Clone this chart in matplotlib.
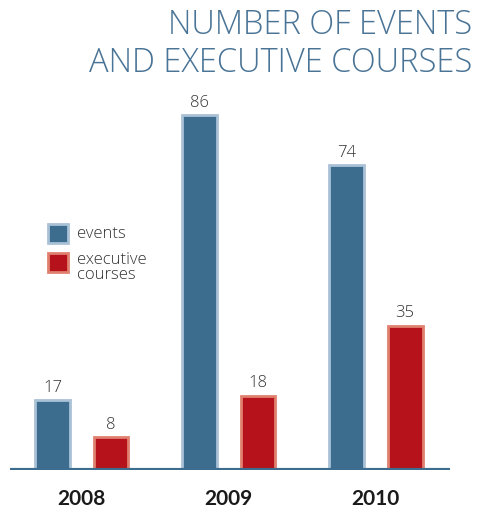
import matplotlib.pyplot as plt
import numpy as np

years = ["2008", "2009", "2010"]
events = [17, 86, 74]
courses = [8, 18, 35]

title_color = "#4a7496"
events_color = "#3d6d8e"
events_edge = "#a9c2d6"
courses_color = "#b5121b"
courses_edge = "#e0806f"
label_color = "#333333"

plt.rcParams["font.family"] = ["Lato", "DejaVu Sans"]
light_font = ["Open Sans", "DejaVu Sans"]

fig = plt.figure(figsize=(4.78, 5.10), dpi=100)
ax = fig.add_axes([10 / 478, 39 / 510, 440 / 478, 371 / 510])

x = np.arange(len(years))
off = 0.199
w = 0.238

b1 = ax.bar(x - off, events, w, color=events_color, edgecolor=events_edge, linewidth=2)
b2 = ax.bar(x + off, courses, w, color=courses_color, edgecolor=courses_edge, linewidth=2)

for bars, vals in [(b1, events), (b2, courses)]:
    for b, v in zip(bars, vals):
        ax.text(b.get_x() + b.get_width() / 2, v + 1.3, str(v), ha="center", va="bottom",
                fontsize=12, color=label_color, family=light_font, fontweight="light")

ax.set_xlim(-0.488, 2.505)
ax.set_ylim(0, 90)
ax.axhline(0, color="#3d6d8e", linewidth=3, zorder=5)
for s in ax.spines.values():
    s.set_visible(False)
ax.set_xticks([])
ax.set_yticks([])

for xi, yr in zip(x, years):
    ax.text(xi, -4.3, yr, ha="center", va="top", fontsize=15, fontweight="bold",
            color="#1a1a1a", clip_on=False)

# legend drawn by hand as squares with labels
fig.patches.append(plt.Rectangle((48 / 478, 1 - 244 / 510), 20 / 478, 19 / 510,
                                 transform=fig.transFigure, facecolor=events_color,
                                 edgecolor=events_edge, linewidth=2))
fig.patches.append(plt.Rectangle((48 / 478, 1 - 273 / 510), 20 / 478, 19 / 510,
                                 transform=fig.transFigure, facecolor=courses_color,
                                 edgecolor=courses_edge, linewidth=2))
fig.text(77 / 478, 1 - 234 / 510, "events", va="center", ha="left", fontsize=12,
         color=label_color, family=light_font, fontweight="light")
fig.text(77 / 478, 1 - 252 / 510, "executive\ncourses", va="top", ha="left", fontsize=12,
         color=label_color, family=light_font, fontweight="light", linespacing=0.95)

fig.text(472 / 478, 1 - 25 / 510, "NUMBER OF EVENTS", ha="right", va="center",
         fontsize=23.5, color=title_color, family=light_font, fontweight="light")
fig.text(472 / 478, 1 - 63 / 510, "AND EXECUTIVE COURSES", ha="right", va="center",
         fontsize=23.5, color=title_color, family=light_font, fontweight="light")

fig.savefig("out.png", dpi=100)
